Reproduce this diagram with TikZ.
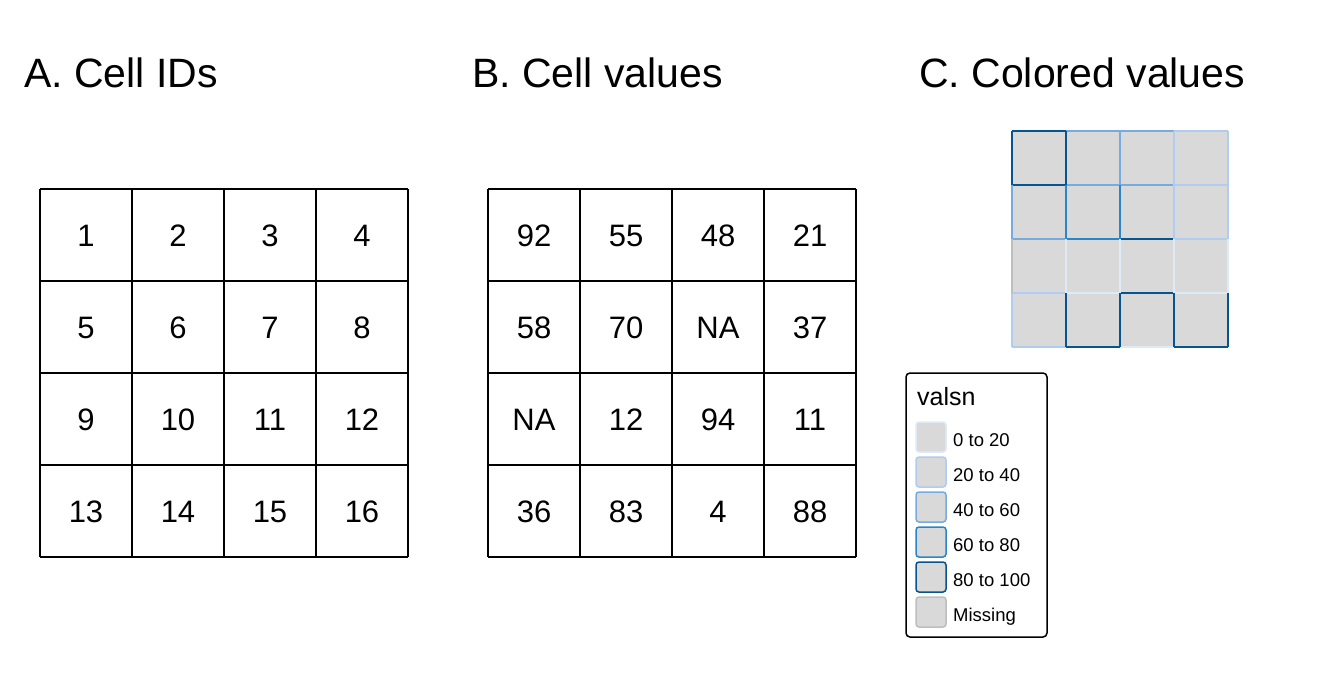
\documentclass[tikz,border=0pt]{standalone}
\usepackage{fontspec}
\setmainfont{Liberation Sans}
\definecolor{cA}{HTML}{DEEBF7}
\definecolor{cB}{HTML}{B0CCF0}
\definecolor{cC}{HTML}{78ABDD}
\definecolor{cD}{HTML}{2B85C6}
\definecolor{cE}{HTML}{08548F}
\definecolor{cN}{HTML}{BEBEBE}
\definecolor{cellfill}{HTML}{D9D9D9}
\tikzset{
  title/.style={anchor=base west, inner sep=0pt, font=\fontsize{41}{49}\selectfont},
  celltext/.style={anchor=center, inner sep=0pt, font=\fontsize{31}{37}\selectfont},
  gridline/.style={line width=1.8pt, black},
  cedge/.style={line width=2pt, line cap=butt},
  legbox/.style={draw=black, line width=1.5pt, rounded corners=4pt, fill=white},
  swatch/.style={line width=1.5pt, rounded corners=3pt, fill=cellfill},
  legtitle/.style={anchor=base west, inner sep=0pt, font=\fontsize{25}{30}\selectfont},
  legtext/.style={anchor=base west, inner sep=0pt, font=\fontsize{18.5}{22}\selectfont},
}
\begin{document}
\begin{tikzpicture}[x=1pt,y=-1pt]
\useasboundingbox (0,0) rectangle (1344,672);
\fill[white] (0,0) rectangle (1344,672);
% titles
\node[title] (tA) at (24,87) {A. Cell IDs};
\node[title] (tB) at (472,87) {B. Cell values};
\node[title] (tC) at (919,87) {C. Colored values};
% grid A
\foreach \i in {0,...,4} {
  \draw[gridline] (40+92*\i,189) -- (40+92*\i,557);
  \draw[gridline] (40,189+92*\i) -- (408,189+92*\i);
}
\foreach \t [count=\k from 0] in {1,2,3,4,5,6,7,8,9,10,11,12,13,14,15,16} {
  \pgfmathtruncatemacro{\cc}{mod(\k,4)}
  \pgfmathtruncatemacro{\rr}{div(\k,4)}
  \node[celltext] (a\k) at (86+92*\cc,236+92*\rr) {\t};
}
% grid B
\foreach \i in {0,...,4} {
  \draw[gridline] (488+92*\i,189) -- (488+92*\i,557);
  \draw[gridline] (488,189+92*\i) -- (856,189+92*\i);
}
\foreach \t [count=\k from 0] in {92,55,48,21,58,70,NA,37,NA,12,94,11,36,83,4,88} {
  \pgfmathtruncatemacro{\cc}{mod(\k,4)}
  \pgfmathtruncatemacro{\rr}{div(\k,4)}
  \node[celltext] (b\k) at (534+92*\cc,236+92*\rr) {\t};
}
% panel C
\fill[cellfill] (1012,131) rectangle (1228,347);
% horizontal edges
\foreach \y/\ca/\cb/\cc/\cd in {131/cE/cC/cC/cB, 185/cE/cC/cC/cB, 239/cC/cD/cE/cB, 293/cB/cA/cE/cA, 347/cB/cE/cA/cE} {
  \draw[cedge,\ca] (1012,\y) -- (1066,\y);
  \draw[cedge,\cb] (1066,\y) -- (1120,\y);
  \draw[cedge,\cc] (1120,\y) -- (1174,\y);
  \draw[cedge,\cd] (1174,\y) -- (1228,\y);
}
% vertical edges
\foreach \x/\ca/\cb/\cc/\cd in {1012/cE/cC/cN/cB, 1066/cE/cD/cA/cE, 1120/cC/cD/cA/cE, 1174/cB/cB/cA/cE, 1228/cB/cB/cA/cE} {
  \draw[cedge,\ca] (\x,131) -- (\x,185);
  \draw[cedge,\cb] (\x,185) -- (\x,239);
  \draw[cedge,\cc] (\x,239) -- (\x,293);
  \draw[cedge,\cd] (\x,293) -- (\x,347);
}
% legend
\draw[legbox] (906,373) rectangle (1047,637);
\node[legtitle] (lt) at (917,405) {valsn};
\foreach \c/\t [count=\k from 0] in {cA/0 to 20, cB/20 to 40, cC/40 to 60, cD/60 to 80, cE/80 to 100, cN/Missing} {
  \draw[swatch,draw=\c] (916,422+35*\k) rectangle (946,452+35*\k);
  \node[legtext] (l\k) at (953,446+35*\k) {\t};
}
\end{tikzpicture}
\end{document}
